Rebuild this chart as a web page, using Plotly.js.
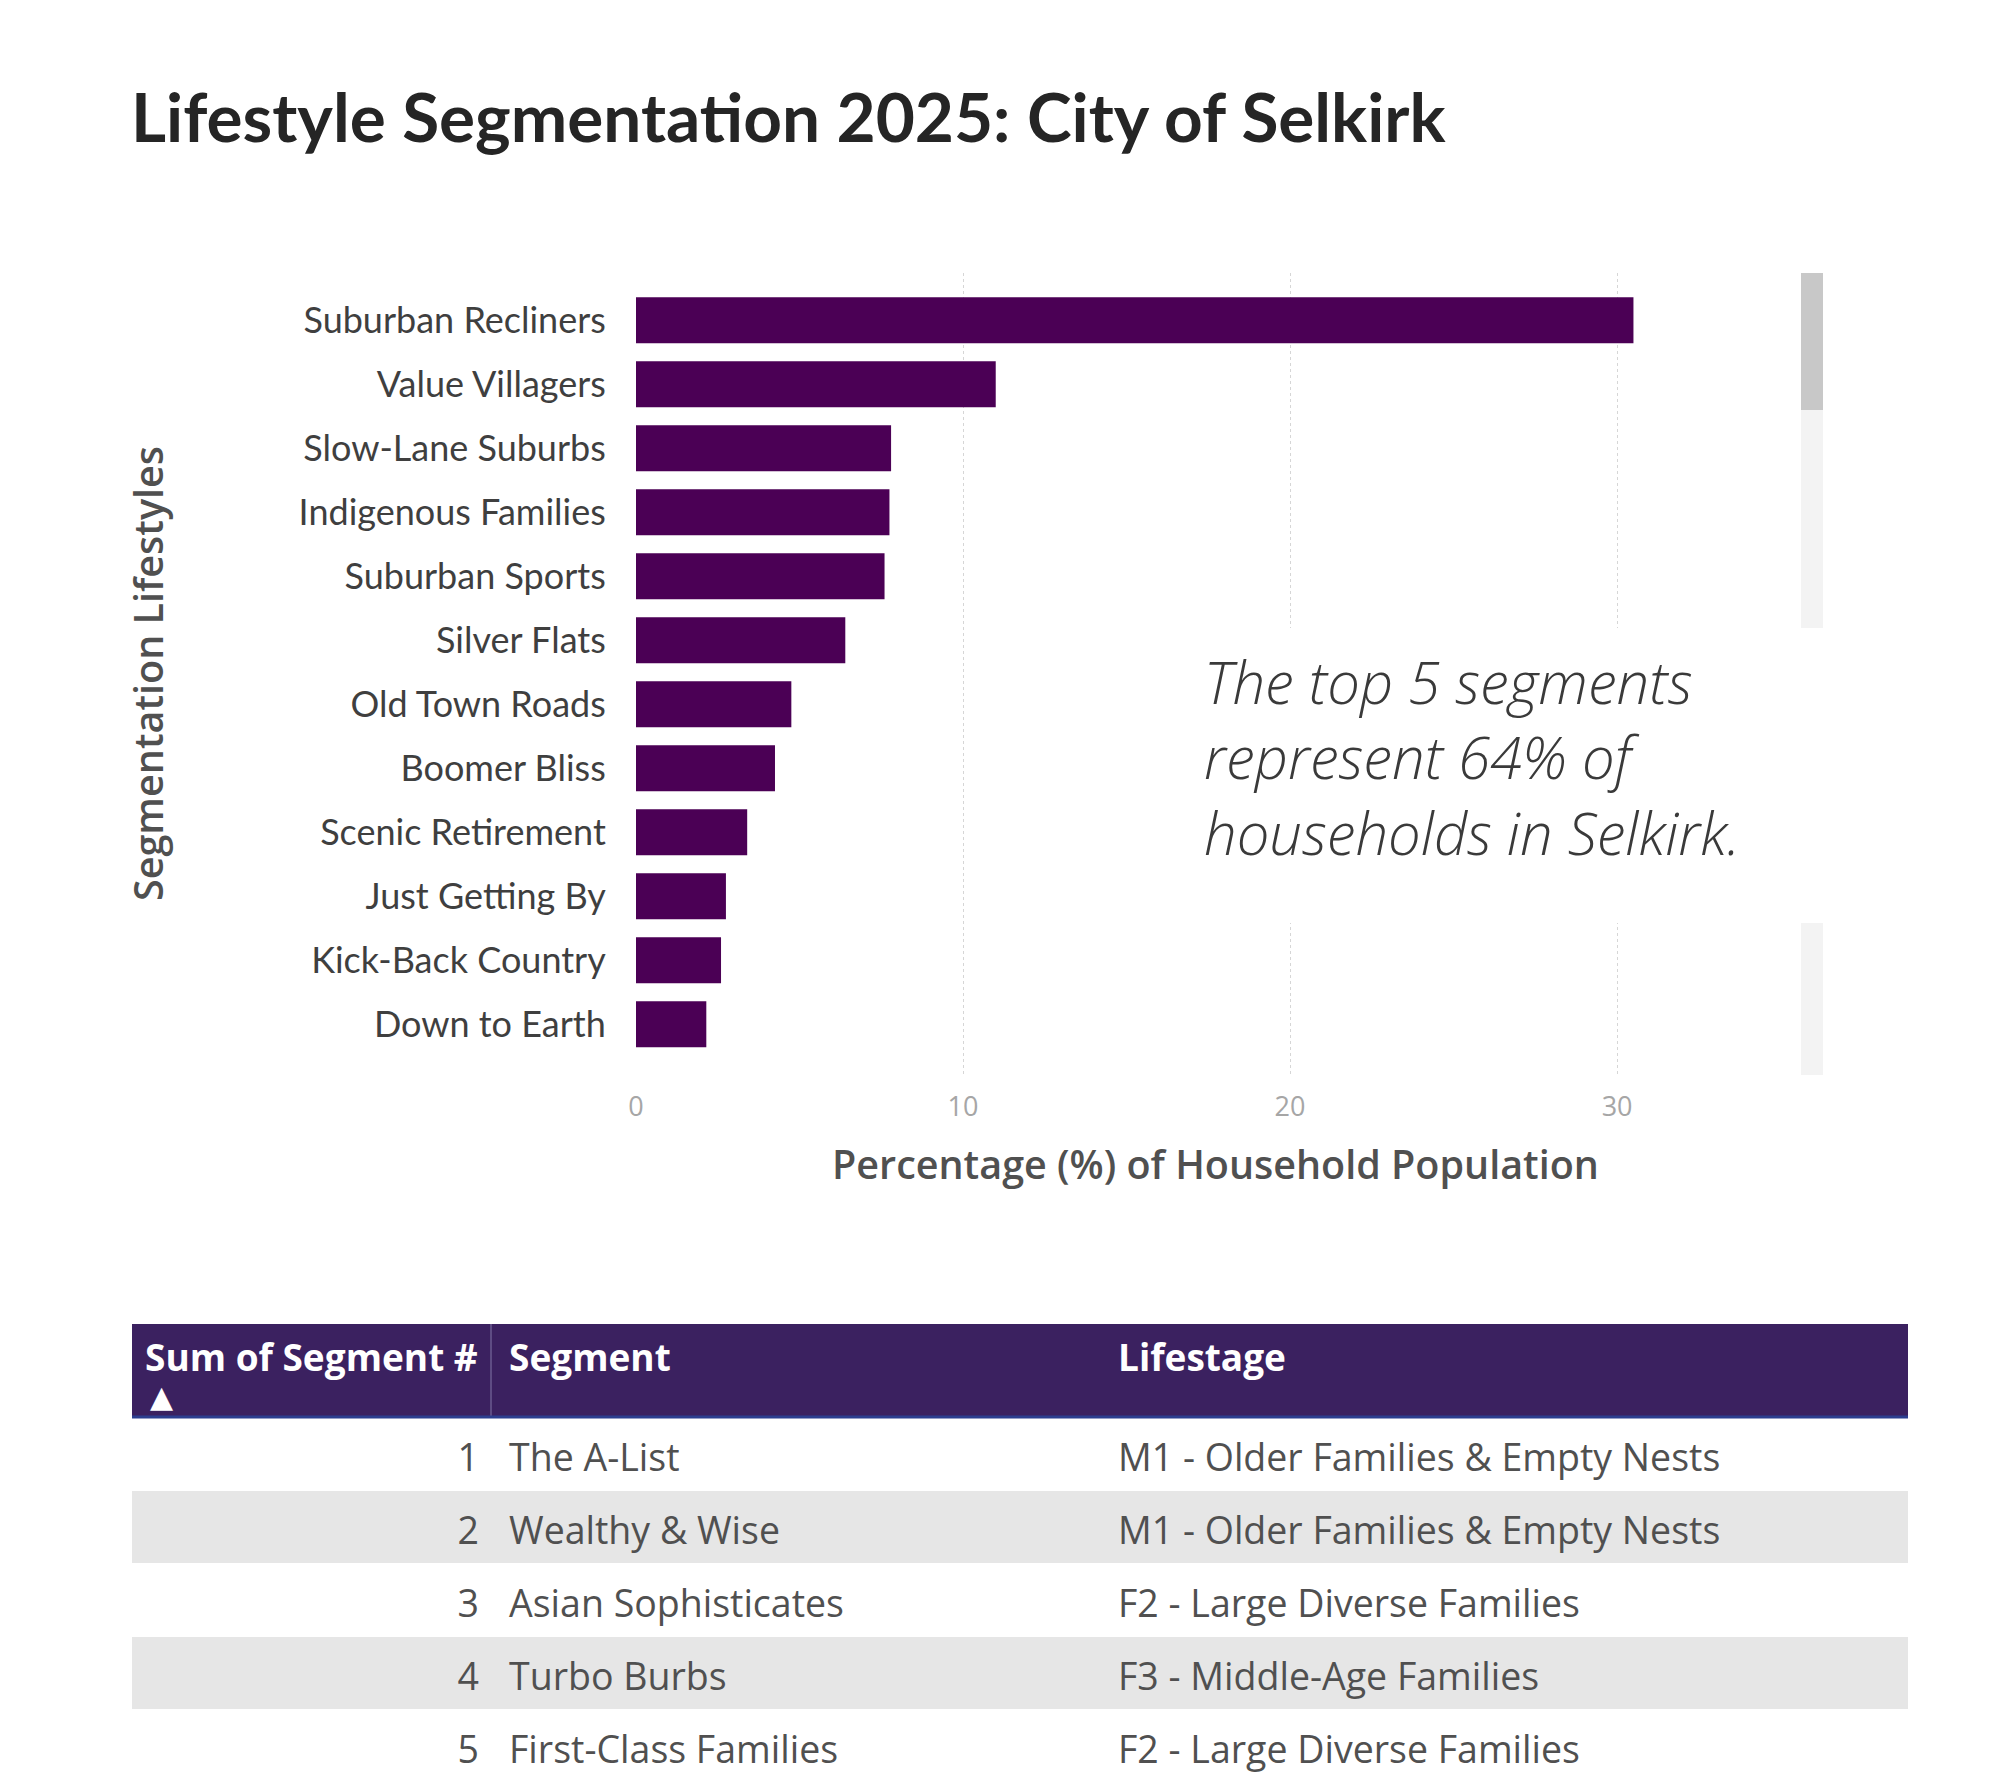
<!DOCTYPE html>
<html>
<head>
<meta charset="utf-8">
<script src="https://cdn.plot.ly/plotly-3.0.1.min.js"></script>
<style>
  html, body { margin: 0; padding: 0; background: #fff; }
  #chart { width: 2000px; height: 1778px; }
</style>
</head>
<body>
<div id="chart"></div>
<script>
// bar chart data (percent of household population)
var lifestyles = ["Suburban Recliners", "Value Villagers", "Slow-Lane Suburbs", "Indigenous Families",
  "Suburban Sports", "Silver Flats", "Old Town Roads", "Boomer Bliss", "Scenic Retirement",
  "Just Getting By", "Kick-Back Country", "Down to Earth"];
var pctHousehold = [30.5, 11.0, 7.8, 7.75, 7.6, 6.4, 4.75, 4.25, 3.4, 2.75, 2.6, 2.15];
var xTicks = [0, 10, 20, 30];

// table data
var tableHeaders = ["Sum of Segment #", "Segment", "Lifestage"];
var segmentNum = [1, 2, 3, 4, 5];
var segmentName = ["The A-List", "Wealthy & Wise", "Asian Sophisticates", "Turbo Burbs", "First-Class Families"];
var lifestage = ["M1 - Older Families & Empty Nests", "M1 - Older Families & Empty Nests",
  "F2 - Large Diverse Families", "F3 - Middle-Age Families", "F2 - Large Diverse Families"];

var purple = "#4b0055";
var headerPurple = "#3b2160";
var font = "Lato, 'Noto Sans', sans-serif";
var font2 = "'Open Sans', 'Noto Sans', sans-serif";

// table geometry (in px of the table area, 1776 x 454)
var tblW = 1776, tblH = 454, headH = 93, rowH = 73;
var colX = [347, 377, 986];          // text anchor of each column
var headX = [13, 377, 986];
var rowY = segmentNum.map(function(d, i) { return headH + rowH * i + rowH / 2 + 8; });

var bars = {
  type: "bar",
  orientation: "h",
  y: lifestyles,
  x: pctHousehold,
  marker: { color: purple },
  hoverinfo: "x+y"
};

function colText(vals, x, pos) {
  return {
    type: "scatter", mode: "text", xaxis: "x2", yaxis: "y2",
    x: vals.map(function() { return x; }),
    y: rowY,
    text: vals.map(String),
    textposition: pos,
    textfont: { family: font2, size: 37.5, color: "#505050" },
    hoverinfo: "skip"
  };
}

var headerText = {
  type: "scatter", mode: "text", xaxis: "x2", yaxis: "y2",
  x: headX, y: tableHeaders.map(function() { return 38; }),
  text: tableHeaders,
  textposition: "middle right",
  textfont: { family: font2, size: 37, color: "#ffffff", weight: "bold" },
  hoverinfo: "skip"
};

var traces = [
  bars,
  headerText,
  colText(segmentNum, colX[0], "middle left"),
  colText(segmentName, colX[1], "middle right"),
  colText(lifestage, colX[2], "middle right")
];

// table backgrounds
var shapes = [
  { type: "rect", xref: "x2", yref: "y2", x0: 0, x1: tblW, y0: 0, y1: headH,
    fillcolor: headerPurple, line: { width: 0 }, layer: "below" },
  { type: "line", xref: "x2", yref: "y2", x0: 359, x1: 359, y0: 0, y1: headH,
    line: { color: "#5e4c84", width: 2 }, layer: "below" },
  { type: "line", xref: "x2", yref: "y2", x0: 0, x1: tblW, y0: headH, y1: headH,
    line: { color: "#2c3e8f", width: 3 }, layer: "below" }
];
segmentNum.forEach(function(d, i) {
  if (i % 2 === 1) {
    shapes.push({ type: "rect", xref: "x2", yref: "y2", x0: 0, x1: tblW,
      y0: headH + rowH * i + 1, y1: headH + rowH * (i + 1),
      fillcolor: "#e6e6e6", line: { width: 0 }, layer: "below" });
  }
});
// scrollbar track + thumb and white box behind the note
shapes.push(
  { type: "rect", xref: "paper", yref: "paper", x0: 0.9005, x1: 0.9115, y0: 0.3954, y1: 0.8465,
    fillcolor: "#f3f3f3", line: { width: 0 }, layer: "above" },
  { type: "rect", xref: "paper", yref: "paper", x0: 0.9005, x1: 0.9115, y0: 0.7694, y1: 0.8465,
    fillcolor: "#c8c8c8", line: { width: 0 }, layer: "above" },
  { type: "rect", xref: "paper", yref: "paper", x0: 0.5865, x1: 0.9175, y0: 0.4809, y1: 0.6468,
    fillcolor: "#ffffff", line: { width: 0 }, layer: "above" }
);

var layout = {
  width: 2000,
  height: 1778,
  margin: { l: 0, r: 0, t: 0, b: 0 },
  paper_bgcolor: "#ffffff",
  plot_bgcolor: "rgba(0,0,0,0)",
  showlegend: false,
  bargap: 0.28,
  font: { family: font },
  title: {
    text: "Lifestyle Segmentation 2025: City of Selkirk",
    x: 0.0655, xanchor: "left",
    y: 0.9336, yanchor: "middle",
    font: { family: font, size: 67.5, color: "#252525", weight: "bold" }
  },
  xaxis: {
    domain: [0.318, 0.8975],
    range: [0, 35.44],
    tickvals: xTicks,
    showgrid: true,
    gridcolor: "#d6d6d6",
    griddash: "dot",
    zeroline: false,
    showline: false,
    ticks: "outside",
    ticklen: 9,
    tickcolor: "rgba(0,0,0,0)",
    tickfont: { family: font2, size: 27, color: "#a6a6a6" },
    title: { text: "Percentage (%) of Household Population", standoff: 27,
      font: { family: font2, size: 39.5, color: "#505050", weight: 600 } },
    fixedrange: true
  },
  yaxis: {
    domain: [0.3959, 0.8465],
    range: [11.78, -0.74],
    showgrid: false,
    zeroline: false,
    ticks: "outside",
    ticklen: 22,
    tickcolor: "rgba(0,0,0,0)",
    tickfont: { size: 36, color: "#3f3f3f" },
    title: { text: "Segmentation Lifestyles", standoff: 122,
      font: { family: font2, size: 39.5, color: "#505050", weight: 600 } },
    fixedrange: true
  },
  xaxis2: {
    domain: [0.066, 0.954], anchor: "y2", range: [0, tblW],
    visible: false, fixedrange: true
  },
  yaxis2: {
    domain: [0, 0.2553], anchor: "x2", range: [tblH, 0],
    visible: false, fixedrange: true
  },
  shapes: shapes,
  annotations: [
    {
      xref: "paper", yref: "paper",
      x: 0.601, xanchor: "left",
      y: 0.5742, yanchor: "middle",
      align: "left",
      showarrow: false,
      text: "The top 5 segments<br>represent 64% of<br>households in Selkirk.",
      font: { family: font2, size: 58, color: "#3a3a3a", style: "italic", weight: 300 }
    },
    {
      xref: "x2", yref: "y2", x: 29, y: 72, showarrow: false,
      text: "▲", font: { family: "'DejaVu Sans', sans-serif", size: 30, color: "#ffffff" }
    }
  ]
};

Plotly.newPlot("chart", traces, layout, { displayModeBar: false, staticPlot: true });
</script>
</body>
</html>
